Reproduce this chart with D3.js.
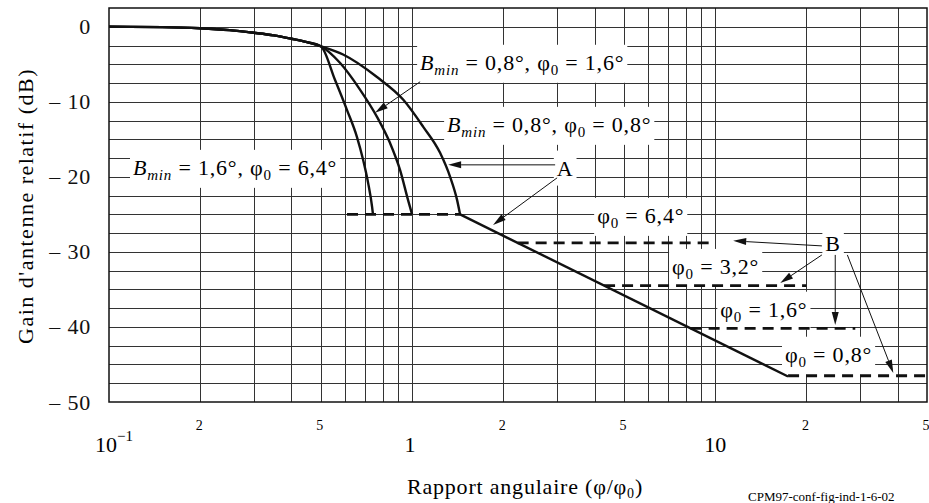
<!DOCTYPE html>
<html lang="fr">
<head>
<meta charset="UTF-8" />
<title>Gain d'antenne relatif</title>
<style>
  body { margin: 0; background: #fff; }
  svg { display: block; font-family: "Liberation Serif", "Times New Roman", serif; }
  .grid line { stroke: #333; stroke-width: 1; shape-rendering: crispEdges; }
  .grid .domain { display: none; }
  .ylab .domain, .ylab line { display: none; }
</style>
</head>
<body>
<svg id="chart" width="929" height="503"></svg>
<script src="https://cdn.jsdelivr.net/npm/d3@7"></script>
<script>
// main lobe shared by the three curves (up to phi/phi0 = 0.5)
const lobeRatio = [0.1, 0.15, 0.2, 0.25, 0.3, 0.35, 0.4, 0.45, 0.5];
const lobeGain  = [0, -0.05, -0.2, -0.45, -0.8, -1.15, -1.6, -2.05, -2.6];

// B_min = 1,6°, phi0 = 6,4°
const c1Ratio = [0.5, 0.557, 0.61, 0.658, 0.689, 0.716, 0.738, 0.743];
const c1Gain  = [-2.6, -7.1, -11.1, -14.7, -17.7, -20.8, -24.0, -25.0];
// B_min = 0,8°, phi0 = 1,6°
const c2Ratio = [0.5, 0.578, 0.674, 0.766, 0.846, 0.913, 0.97, 1.0];
const c2Gain  = [-2.6, -4.8, -8.4, -12.0, -15.5, -19.1, -23.1, -25.0];
// B_min = 0,8°, phi0 = 0,8°
const c3Ratio = [0.5, 0.592, 0.766, 0.934, 1.087, 1.237, 1.335, 1.408, 1.44];
const c3Gain  = [-2.6, -3.7, -6.7, -9.7, -13.3, -16.8, -20.0, -23.1, -25.0];

// envelope (A)
const envRatio = [1.44, 17.4];
const envGain  = [-25, -46.6];

// -25 dB floor under the main lobes
const lobeFloorRatio = [0.61, 1.44];
const lobeFloorGain  = -25;

// floors (B)
const floorLabels = ["6,4°", "3,2°", "1,6°", "0,8°"];
const floorGain   = [-28.8, -34.5, -40.2, -46.5];
const floorFrom   = [2.23, 4.3, 8.3, 17.4];
const floorTo     = [10, 20, 29, 50];

const yTicks = [0, -10, -20, -30, -40, -50];

const svg = d3.select("#chart");
const mLeft = 109, mRight = 927, mTop = 8, mBottom = 402;
const x = d3.scaleLog().domain([0.1, 50]).range([mLeft, mRight]);
const y = d3.scaleLinear().domain([-50, 2.5]).range([mBottom, mTop]);

// grid
const vTicks = x.ticks().filter(d => d > 0.1 && d < 50);
svg.append("g").attr("class", "grid")
  .attr("transform", `translate(0,${mBottom})`)
  .call(d3.axisBottom(x).tickValues(vTicks).tickSize(-(mBottom - mTop)).tickFormat(""));
svg.append("g").attr("class", "grid")
  .attr("transform", `translate(${mLeft},0)`)
  .call(d3.axisLeft(y).tickValues(d3.range(-47.5, 0.1, 2.5)).tickSize(-(mRight - mLeft)).tickFormat(""));

const bgLayer = svg.append("g");
const dataLayer = svg.append("g");
const textLayer = svg.append("g").attr("font-size", 22).attr("letter-spacing", 0.8);

svg.append("rect").attr("x", mLeft).attr("y", mTop)
  .attr("width", mRight - mLeft).attr("height", mBottom - mTop)
  .attr("fill", "none").attr("stroke", "#111").attr("stroke-width", 1.5);

// curves
const line = d3.line().x(d => x(d[0])).y(d => y(d[1])).curve(d3.curveMonotoneX);
const lobe = lobeRatio.map((r, i) => [r, lobeGain[i]]);
[[c1Ratio, c1Gain], [c2Ratio, c2Gain], [c3Ratio, c3Gain]].forEach(([rs, gs]) => {
  const pts = lobe.concat(rs.slice(1).map((r, i) => [r, gs[i + 1]]));
  dataLayer.append("path").attr("d", line(pts))
    .attr("fill", "none").attr("stroke", "#111").attr("stroke-width", 2.4);
});

dataLayer.append("path")
  .attr("d", d3.line().x(d => x(d[0])).y(d => y(d[1]))(envRatio.map((r, i) => [r, envGain[i]])))
  .attr("fill", "none").attr("stroke", "#111").attr("stroke-width", 2.4);

function dashed(x1, x2, g) {
  dataLayer.append("line")
    .attr("x1", x(x1)).attr("x2", x(x2)).attr("y1", y(g)).attr("y2", y(g))
    .attr("stroke", "#111").attr("stroke-width", 2.8).attr("stroke-dasharray", "11,7");
}
dashed(lobeFloorRatio[0], lobeFloorRatio[1], lobeFloorGain);
floorGain.forEach((g, i) => dashed(floorFrom[i], floorTo[i], g));

// labels with rich text
function rich(px, py, parts, anchor) {
  const t = textLayer.append("text").attr("x", px).attr("y", py + 7)
    .attr("text-anchor", anchor || "start");
  let shift = 0;
  parts.forEach(p => {
    const s = t.append("tspan").text(p.t);
    if (p.i) s.attr("font-style", "italic");
    const want = p.sub ? 5 : 0;
    if (want !== shift) { s.attr("dy", want - shift); shift = want; }
    if (p.sub) s.attr("font-size", 15);
  });
  const b = t.node().getBBox();
  bgLayer.append("rect").attr("x", b.x - 3).attr("y", b.y - 5)
    .attr("width", b.width + 6).attr("height", b.height + 10).attr("fill", "#fff");
  return t;
}
const bminLabel = (b, p) => [
  { t: "B", i: true }, { t: "min", i: true, sub: true },
  { t: " = " + b + ", φ" }, { t: "0", sub: true }, { t: " = " + p }
];
rich(x(1.063), y(-4.8), bminLabel("0,8°", "1,6°"));
rich(x(1.305), y(-13.07), bminLabel("0,8°", "0,8°"));
rich(x(0.12), y(-18.8), bminLabel("1,6°", "6,4°"));

const floorLabelPos = [[4.08, -25.2], [7.21, -32.0], [10.4, -37.7], [17.0, -43.7]];
floorLabels.forEach((l, i) => {
  rich(x(floorLabelPos[i][0]), y(floorLabelPos[i][1]), [{ t: "φ" }, { t: "0", sub: true }, { t: " = " + l }]);
});

rich(x(3.2), y(-18.9), [{ t: "A" }], "middle");
rich(x(24.5), y(-28.9), [{ t: "B" }], "middle");

// arrows
function arrow(r1, g1, r2, g2) {
  const x1 = x(r1), y1 = y(g1), x2 = x(r2), y2 = y(g2);
  const a = Math.atan2(y2 - y1, x2 - x1), L = 13, W = 3.5;
  const bx = x2 - L * Math.cos(a), by = y2 - L * Math.sin(a);
  dataLayer.append("line").attr("x1", x1).attr("y1", y1).attr("x2", bx).attr("y2", by)
    .attr("stroke", "#111").attr("stroke-width", 1);
  dataLayer.append("path")
    .attr("d", `M${x2},${y2}L${bx - W * Math.sin(a)},${by + W * Math.cos(a)}L${bx + W * Math.sin(a)},${by - W * Math.cos(a)}Z`)
    .attr("fill", "#111");
}
arrow(1.063, -7.33, 0.755, -11.47);
arrow(2.965, -18.4, 1.315, -18.4);
arrow(3.01, -20.13, 1.85, -26.4);
arrow(22.5, -29.2, 11.47, -28.53);
arrow(22.5, -30.4, 16.4, -34.13);
arrow(24.9, -30.4, 24.9, -39.73);
arrow(27.3, -30.4, 38.7, -46.13);

// y axis labels
svg.append("g").attr("class", "ylab")
  .attr("transform", `translate(${mLeft},0)`)
  .call(d3.axisLeft(y).tickValues(yTicks).tickSize(0).tickPadding(18)
    .tickFormat(d => d === 0 ? "0" : "– " + (-d)))
  .selectAll("text").attr("font-size", 22).attr("letter-spacing", 0.8)
  .attr("font-family", "Liberation Serif, serif").attr("fill", "#111");

// x axis labels
const minorTicks = [0.2, 0.5, 2, 5, 20, 50];
svg.append("g").selectAll("text").data(minorTicks).join("text")
  .attr("x", d => x(d) - 1).attr("y", 430).attr("text-anchor", "middle")
  .attr("font-size", 14).text(d => String(d).replace("0.", "").replace(/0$/, ""));

const exp = svg.append("text").attr("x", x(0.1) - 14).attr("y", 452).attr("font-size", 22);
exp.append("tspan").text("10");
exp.append("tspan").attr("dy", -11).attr("font-size", 15).text("−1");
svg.append("text").attr("x", x(1) - 2).attr("y", 452).attr("text-anchor", "middle").attr("font-size", 22).text("1");
svg.append("text").attr("x", x(10)).attr("y", 452).attr("text-anchor", "middle").attr("font-size", 22).text("10");

// axis titles
const xt = svg.append("text").attr("x", 525).attr("y", 494).attr("text-anchor", "middle")
  .attr("font-size", 22).attr("letter-spacing", 0.8);
xt.append("tspan").text("Rapport angulaire (φ/φ");
xt.append("tspan").attr("dy", 4).attr("font-size", 14).text("0");
xt.append("tspan").attr("dy", -4).text(")");

svg.append("text").attr("transform", "translate(33,206) rotate(-90)")
  .attr("text-anchor", "middle").attr("font-size", 22).attr("letter-spacing", 1.5)
  .text("Gain d'antenne relatif (dB)");

svg.append("text").attr("x", 748).attr("y", 501).attr("font-size", 13).text("CPM97-conf-fig-ind-1-6-02");
</script>
</body>
</html>
